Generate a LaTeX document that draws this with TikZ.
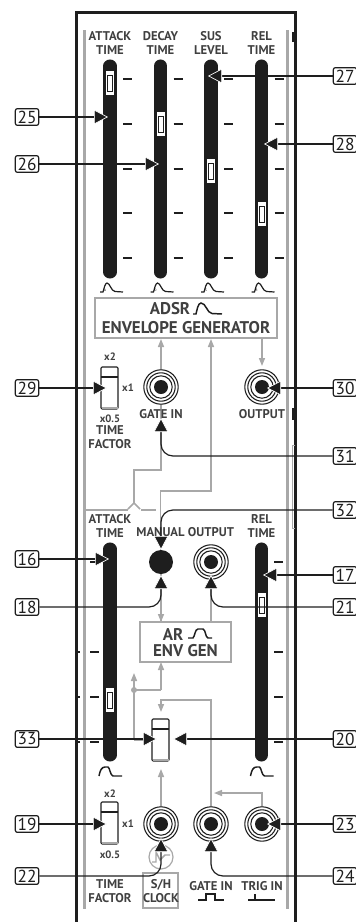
\documentclass[tikz,border=0pt]{standalone}
\usepackage{fontspec}
\setmainfont{PT Sans}
\usepackage{xcolor}
\usetikzlibrary{arrows.meta}
\definecolor{panelgray}{HTML}{A8A8A8}
\definecolor{inkblack}{HTML}{1E1E1E}
\tikzset{
  frameline/.style={draw=inkblack,line width=1.9pt},
  guideline/.style={draw=panelgray,line width=1.7pt},
  signal/.style={draw=panelgray,line width=1.1pt},
  signalarrow/.style={signal,-{Triangle[length=6pt,width=4.5pt]}},
  envbox/.style={draw=panelgray,line width=1.5pt,fill=white},
  fader/.style={draw=inkblack,line width=9.8pt,line cap=round},
  tick/.style={draw=inkblack,line width=0.9pt},
  icon/.style={draw=inkblack,line width=0.9pt},
  paneltext/.style={font=\bfseries\fontsize{9.5}{10}\selectfont,text=inkblack!85!white,inner sep=0pt,align=center},
  smalltext/.style={font=\bfseries\fontsize{8}{9}\selectfont,text=inkblack!85!white,inner sep=0pt},
  boxtext/.style={font=\bfseries\fontsize{12.7}{14}\selectfont,text=inkblack!85!white,inner sep=0pt},
  callout/.style={draw=inkblack,line width=0.9pt,rounded corners=1.5pt,minimum width=17.5pt,minimum height=12.5pt,inner sep=0pt,fill=white,font=\fontsize{13}{13}\selectfont,text=inkblack},
  pointer/.style={draw=inkblack,line width=0.9pt,-{Triangle[length=10.5pt,width=11pt,fill=inkblack,color=white,line width=0.5pt]}},
}
\begin{document}
\begin{tikzpicture}[x=0.75pt,y=-0.75pt]
\useasboundingbox (0,0) rectangle (356,922);
% Case outline and inner guide lines
\draw[frameline] (76.5,922) -- (76.5,12.5) -- (295.5,12.5) -- (295.5,922);
\draw[guideline] (84.5,30) -- (84.5,909);
\draw[guideline] (287.5,30) -- (287.5,909);
\draw[guideline] (84.5,510) -- (128,510);
\draw[guideline] (141,510) -- (156,510);
\draw[panelgray,line width=0.7pt] (295,445) -- (292,445) -- (292,528) -- (295,528);
\fill[inkblack] (292,32) rectangle (294.5,42);

% ADSR faders
\foreach \x/\hy/\ltop/\lbot/\letter in {110/83/ATTACK/TIME/A,160.5/124/DECAY/TIME/D,211/171/SUS/LEVEL/S,261.5/214/REL/TIME/R} {
  \node[paneltext] at (\x,43) {\ltop\\\lbot};
  \draw[fader] (\x,66) -- (\x,272);
  \foreach \ty in {79,124,169,213,258} {
    \draw[tick] (\x+13,\ty) -- (\x+22,\ty);
  }
  \fill[white] (\x-4,\hy-12) rectangle (\x+4,\hy+12);
  \draw[fill=white,draw=inkblack,line width=0.7pt] (\x-2.5,\hy-8) rectangle (\x+2.5,\hy+8);
  \draw[icon] (\x-10,292) -- (\x-7,292) .. controls (\x-6,289) and (\x-5,283) .. (\x-3,283) .. controls (\x,283) and (\x+1,291) .. (\x+5,291.5) -- (\x+13,292);
  \node[font=\fontsize{2.5}{3}\selectfont,inner sep=0pt] at (\x-5,290) {\letter};
}

% AR faders
\foreach \x/\hy in {110/700,261.5/605} {
  \draw[fader] (\x,549) -- (\x,755);
  \fill[white] (\x-4,\hy-12) rectangle (\x+4,\hy+12);
  \draw[fill=white,draw=inkblack,line width=0.7pt] (\x-2.5,\hy-8) rectangle (\x+2.5,\hy+8);
  \draw[icon,line width=1.1pt] (\x-11,776) .. controls (\x-10,770) and (\x-8,767) .. (\x-5,767) -- (\x-2,767) .. controls (\x,768) and (\x,775) .. (\x+3,776) -- (\x+12,776);
}
\foreach \ty in {562,652,697,742} {
  \draw[tick] (90,\ty) -- (99,\ty);
}
\foreach \ty in {562,652,697,742} {
  \draw[tick] (274,\ty) -- (283,\ty);
}
\foreach \ty in {652,697,742} {
  \fill[inkblack] (78,\ty-1) rectangle (79.5,\ty+1);
}
\node[paneltext] at (110,526) {ATTACK\\TIME};
\node[paneltext] at (261.5,526) {REL\\TIME};

% Signal lines
\draw[signal] (161,370) -- (161,470) -- (134,470) -- (134,503);
\draw[signal] (128,509) -- (134,503) -- (140,509);
\draw[signal] (211,345) -- (211,491) -- (160.5,491) -- (160.5,550);
\draw[signalarrow] (161,370) -- (161,339);
\draw[signalarrow] (211,491) -- (211,339);
\draw[signalarrow] (262,339) -- (262,366);
\draw[signal] (161,574) -- (161,622);
\draw[signalarrow] (161,600) -- (161,622);
\draw[signal] (211,575) -- (211,622);
\draw[signalarrow] (161,690) -- (161,662);
\draw[signal] (161,690) -- (134,690);
\fill[panelgray] (134,690) circle (3);
\draw[signalarrow] (134,740) -- (134,673);
\draw[signal] (134,740) -- (150,740);
\draw[signalarrow] (211,807) -- (211,700) -- (161,700) -- (161,712);
\draw[signalarrow] (262,807) -- (262,793) -- (214,793);
\draw[signalarrow] (161,807) -- (161,769);

% Envelope boxes
\node[envbox,minimum width=136pt,minimum height=30pt] (adsrbox) at (186,318) {};
\node[boxtext] (adsrtop) at (170,309) {ADSR};
\node[boxtext] (adsrlow) at (186,328) {ENVELOPE GENERATOR};
\draw[icon,line width=1.1pt] (193,314) -- (196,314) .. controls (197,310) and (198,303) .. (201,303) .. controls (206,303) and (207,313) .. (212,313.5) -- (222,314);
\node[envbox,minimum width=68pt,minimum height=30pt] (arbox) at (185.5,642) {};
\node[boxtext] (artop) at (173,634) {AR};
\node[boxtext] (arlow) at (185.5,651) {ENV GEN};
\draw[icon,line width=1.1pt] (188,638) -- (193,638) .. controls (195,636) and (195,629) .. (198,629) -- (203,629) .. controls (206,630) and (205,637) .. (208,638) -- (212,638);

% Jacks
\foreach \x/\y in {161/387,262/387,211/562,161/824,211/824,262/824} {
  \draw[inkblack,line width=0.8pt,fill=white] (\x,\y) circle (17.2);
  \draw[inkblack,line width=0.8pt] (\x,\y) circle (14.2);
  \draw[inkblack,line width=0.8pt] (\x,\y) circle (11.2);
  \fill[inkblack] (\x,\y) circle (7);
}
\fill[inkblack] (161,562) circle (12);
\node[paneltext] at (161,414) {GATE IN};
\node[paneltext] at (262,414) {OUTPUT};
\fill[inkblack] (292,408) rectangle (294,420);
\node[paneltext] at (160.5,532) {MANUAL};
\node[paneltext] at (211,532) {OUTPUT};

% Slide switches
\foreach \x/\y in {101/367,101/802,152/719} {
  \draw[draw=inkblack,line width=0.8pt,rounded corners=0.8pt] (\x,\y) rectangle (\x+17,\y+42);
  \draw[draw=inkblack,line width=1pt] (\x,\y+10) -- (\x+17,\y+10);
  \draw[draw=panelgray,line width=1.1pt] (\x+0.5,\y+41) -- (\x+16.5,\y+41);
}
\node[smalltext] at (110,357) {x2};
\node[smalltext] at (128,388) {x1};
\node[smalltext] at (110,419) {x0.5};
\node[paneltext] at (110,437) {TIME\\FACTOR};
\node[smalltext] at (110,794) {x2};
\node[smalltext] at (128,824) {x1};
\node[smalltext] at (110,855) {x0.5};

% Bottom labels
\draw[panelgray,line width=0.9pt] (161,857) circle (12);
\draw[panelgray,line width=1.1pt] (152,862) -- (156,862) -- (156,852) -- (160,860) -- (165,855) -- (170,855);
\draw[envbox,fill=none] (143,873) rectangle (178,908);
\node[paneltext] at (110,891) {TIME\\FACTOR};
\node[paneltext] at (161,891) {S/H\\CLOCK};
\node[paneltext] at (211,886) {GATE IN};
\node[paneltext] at (262,886) {TRIG IN};
\draw[icon] (198,900) -- (206,900) -- (206,894) -- (215,894) -- (215,900) -- (224,900);
\draw[icon] (248,900) -- (275,900) (255,900) -- (255,894);

% Callouts with straight pointers
\foreach \num/\lx/\ly/\tx in {25/27/117/108,26/27/164/159,29/27/388/107,16/27/559/109,33/27/739/157,19/27/824/107,
  27/345/76/208,28/345/144/264,30/345/388/267,17/345/575/263,20/345/739/173,23/345/824/267} {
  \node[callout] (c\num) at (\lx,\ly) {\num};
  \coordinate (t\num) at (\tx,\ly);
  \draw[pointer] (c\num) -- (t\num);
}

% Callouts with curved pointers
\foreach \num/\lx/\ly/\tx/\ty in {18/27/607/161/575,22/27/876/161/838,21/345/607/211/575,24/345/876/211/838,31/345/456/161/418} {
  \node[callout] (c\num) at (\lx,\ly) {\num};
  \coordinate (t\num) at (\tx,\ty);
  \draw[pointer,rounded corners=9pt] (c\num) -- (\tx,\ly) -- (t\num);
}
\node[callout] (c32) at (345,510) {32};
\coordinate (t32) at (161,550);
\draw[pointer,rounded corners=9pt] (c32) -- (161,510) -- (t32);
\end{tikzpicture}
\end{document}
